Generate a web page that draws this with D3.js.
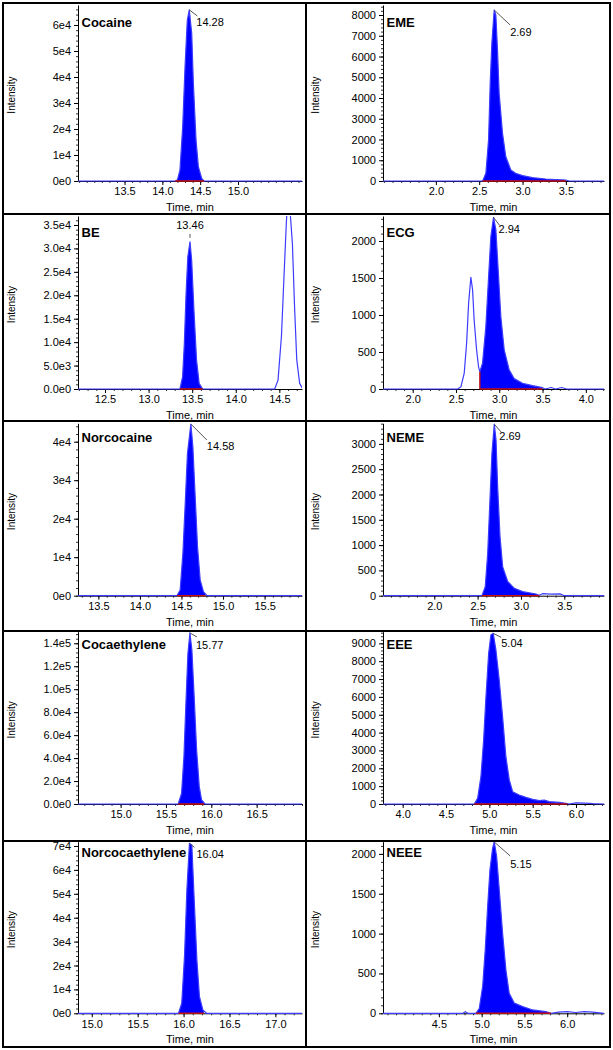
<!DOCTYPE html>
<html><head><meta charset="utf-8">
<script src="https://cdn.jsdelivr.net/npm/d3@7"></script>
<style>
body{margin:0;background:#fff}
svg{display:block}
text{font-family:"Liberation Sans",Arial,sans-serif;fill:#000}
</style>
</head><body>
<svg id="c" width="613" height="1050"></svg>
<script>
// ---------------- DATA ----------------
const panelNames = ["Cocaine","EME","BE","ECG","Norcocaine","NEME","Cocaethylene","EEE","Norcocaethylene","NEEE"];
const peakLabels = ["14.28","2.69","13.46","2.94","14.58","2.69","15.77","5.04","16.04","5.15"];

const xDomains = [[12.885,15.846],[1.39,3.94],[12.19,14.76],[1.657,4.21],[13.255,15.95],
                  [1.408,3.958],[14.53,17.0],[3.773,6.323],[14.85,17.29],[3.847,6.43]];
const yMax = [67692, 8482, 36918, 2338, 44779, 3407, 150087, 9653, 71799, 2153];

const xTicks = [[13.5,14.0,14.5,15.0],[2.0,2.5,3.0,3.5],[12.5,13.0,13.5,14.0,14.5],[2.0,2.5,3.0,3.5,4.0],
                [13.5,14.0,14.5,15.0,15.5],[2.0,2.5,3.0,3.5],[15.0,15.5,16.0,16.5],[4.0,4.5,5.0,5.5,6.0],
                [15.0,15.5,16.0,16.5,17.0],[4.5,5.0,5.5,6.0]];
const xTickLabels = [["13.5","14.0","14.5","15.0"],["2.0","2.5","3.0","3.5"],["12.5","13.0","13.5","14.0","14.5"],
                ["2.0","2.5","3.0","3.5","4.0"],["13.5","14.0","14.5","15.0","15.5"],["2.0","2.5","3.0","3.5"],
                ["15.0","15.5","16.0","16.5"],["4.0","4.5","5.0","5.5","6.0"],["15.0","15.5","16.0","16.5","17.0"],
                ["4.5","5.0","5.5","6.0"]];

const yTicks = [[0,1e4,2e4,3e4,4e4,5e4,6e4],[0,1000,2000,3000,4000,5000,6000,7000,8000],
                [0,5e3,1e4,1.5e4,2e4,2.5e4,3e4,3.5e4],[0,500,1000,1500,2000],[0,1e4,2e4,3e4,4e4],
                [0,500,1000,1500,2000,2500,3000],[0,2e4,4e4,6e4,8e4,1e5,1.2e5,1.4e5],
                [0,1000,2000,3000,4000,5000,6000,7000,8000,9000],[0,1e4,2e4,3e4,4e4,5e4,6e4,7e4],
                [0,500,1000,1500,2000]];
const yTickLabels = [["0e0","1e4","2e4","3e4","4e4","5e4","6e4"],
                ["0","1000","2000","3000","4000","5000","6000","7000","8000"],
                ["0.0e0","5.0e3","1.0e4","1.5e4","2.0e4","2.5e4","3.0e4","3.5e4"],
                ["0","500","1000","1500","2000"],["0e0","1e4","2e4","3e4","4e4"],
                ["0","500","1000","1500","2000","2500","3000"],
                ["0.0e0","2.0e4","4.0e4","6.0e4","8.0e4","1.0e5","1.2e5","1.4e5"],
                ["0","1000","2000","3000","4000","5000","6000","7000","8000","9000"],
                ["0e0","1e4","2e4","3e4","4e4","5e4","6e4","7e4"],
                ["0","500","1000","1500","2000"]];

// integration window (filled region + red baseline), minutes
const integration = [[14.17,14.55],[2.54,3.5],[13.36,13.62],[2.776,3.5],[14.445,14.79],
                     [2.55,3.21],[15.635,15.92],[4.826,5.9],[15.945,16.22],[4.933,5.81]];

// traces: [time (min), intensity (cps)]
const traceCocaine = [[12.885,0],[14.17,0],[14.20,500],[14.233,4200],[14.269,20900],[14.30,44000],[14.33,61900],
  [14.356,65800],[14.388,56800],[14.41,37600],[14.445,15800],[14.476,5500],[14.52,1000],[14.55,0],[15.846,0]];
const traceEME = [[1.39,0],[2.54,0],[2.577,370],[2.608,1980],[2.627,4710],[2.646,6640],[2.673,8240],[2.692,8000],
  [2.711,6310],[2.730,4230],[2.769,2300],[2.807,1170],[2.865,530],[2.92,370],[3.0,260],[3.115,160],[3.268,96],
  [3.5,48],[3.54,0],[3.94,0]];
const traceBE = [[12.19,0],[13.36,0],[13.39,2600],[13.41,9700],[13.43,20400],[13.45,28200],[13.475,31400],
  [13.494,27500],[13.52,16900],[13.55,6200],[13.58,1200],[13.62,0],[14.447,0],[14.485,1900],[14.524,11200],
  [14.55,22500],[14.58,35300],[14.60,42000],[14.625,37500],[14.65,31000],[14.676,16900],[14.70,6200],
  [14.733,1200],[14.77,0]];
const traceECG = [[1.657,0],[2.52,0],[2.557,30],[2.595,210],[2.623,620],[2.646,1160],[2.672,1510],[2.692,1340],
  [2.71,930],[2.738,530],[2.761,300],[2.776,234],[2.807,350],[2.845,840],[2.877,1520],[2.903,2060],[2.934,2320],
  [2.961,2150],[2.992,1520],[3.018,980],[3.057,530],[3.114,260],[3.172,140],[3.269,77],[3.384,45],[3.5,18],
  [3.53,0],[3.6,20],[3.65,0],[3.72,20],[3.78,0],[4.21,0]];
const traceNorcocaine = [[13.255,0],[14.445,0],[14.484,1500],[14.517,11000],[14.545,24000],[14.572,37000],
  [14.613,44600],[14.637,38700],[14.665,25700],[14.693,12700],[14.725,4100],[14.765,1000],[14.81,0],[15.95,0]];
const traceNEME = [[1.408,0],[2.55,0],[2.588,180],[2.616,840],[2.642,1890],[2.665,2810],[2.692,3390],[2.712,3080],
  [2.731,2150],[2.758,1170],[2.789,570],[2.847,280],[2.923,145],[3.02,80],[3.173,33],[3.21,10],[3.25,40],
  [3.35,30],[3.45,35],[3.5,0],[3.958,0]];
const traceCocaethylene = [[14.53,0],[15.635,0],[15.672,9300],[15.698,41200],[15.72,87700],[15.742,131000],
  [15.764,149000],[15.786,134000],[15.811,93500],[15.838,47000],[15.867,15100],[15.893,3500],[15.93,0],[17.0,0]];
const traceEEE = [[3.773,0],[4.826,0],[4.865,320],[4.903,1530],[4.934,3590],[4.961,6010],[4.992,8440],[5.018,9470],
  [5.045,9560],[5.076,8630],[5.114,6950],[5.153,4890],[5.191,2650],[5.23,1350],[5.269,690],[5.345,500],
  [5.422,370],[5.5,260],[5.576,190],[5.633,220],[5.69,130],[5.806,90],[5.883,40],[5.92,0],[6.0,60],[6.1,50],
  [6.2,20],[6.323,0]];
const traceNorcocaethylene = [[14.85,0],[15.945,0],[15.98,4200],[16.01,23700],[16.036,51600],[16.064,71100],
  [16.09,70400],[16.116,47400],[16.145,22300],[16.173,7000],[16.21,1400],[16.25,0],[17.29,0]];
const traceNEEE = [[3.847,0],[4.78,0],[4.81,20],[4.84,0],[4.933,0],[4.972,60],[5.012,340],[5.042,800],[5.07,1340],
  [5.097,1800],[5.128,2070],[5.147,2150],[5.175,1970],[5.206,1550],[5.245,1000],[5.284,540],[5.322,250],
  [5.381,130],[5.479,84],[5.596,42],[5.751,21],[5.81,0],[5.9,15],[6.0,20],[6.1,10],[6.2,20],[6.3,15],[6.43,0]];

const traces = [traceCocaine,traceEME,traceBE,traceECG,traceNorcocaine,traceNEME,
                traceCocaethylene,traceEEE,traceNorcocaethylene,traceNEEE];

// ---------------- LAYOUT ----------------
const colLayout = [
  {left:3, right:306, axisX:78, plotRight:302, intensityX:11},
  {left:306, right:610, axisX:383, plotRight:604, intensityX:315}
];
const rowLayout = [
  {top:3,   bottom:214,  plotTop:5,     base:181,    labelY:27},
  {top:214, bottom:421,  plotTop:216,   base:389,    labelY:237},
  {top:421, bottom:631,  plotTop:423.3, base:595.7,  labelY:442},
  {top:631, bottom:841,  plotTop:631.7, base:804,    labelY:649},
  {top:841, bottom:1047, plotTop:841.7, base:1013.3, labelY:857}
];
// peak annotation: leader [x1,y1,x2,y2] and text [dx,dy] relative to apex pixel
const leaderOffsets = [[0,0,8,6],[0,0,16,15],[0,-8,0,-4],[0,0,6,8],[0,0,16,16],[0,0,7,8],[0,0,7,4],[0,0,8,4],[0,0,5,4],[0,0,16,14]];
const textOffsets = [[7,16],[16,26],[0,-13],[5,16],[16,26],[5,16],[6,16],[8,14],[7,15],[16,26]];

// ---------------- DRAW ----------------
const svg = d3.select("#c");
svg.append("rect").attr("width",613).attr("height",1050).attr("fill","#fff");
const defs = svg.append("defs");

function valueAt(trace, t){
  for (let k=0;k<trace.length-1;k++){
    const a=trace[k], b=trace[k+1];
    if (t>=a[0] && t<=b[0]) return a[1]+(b[1]-a[1])*(t-a[0])/(b[0]-a[0]);
  }
  return 0;
}

panelNames.forEach((name,i)=>{
  const col = colLayout[i%2], row = rowLayout[Math.floor(i/2)];
  const trace = traces[i];
  const x = d3.scaleLinear().domain(xDomains[i]).range([col.axisX, col.plotRight]);
  const y = d3.scaleLinear().domain([0, yMax[i]]).range([row.base, row.plotTop]);
  const g = svg.append("g");

  defs.append("clipPath").attr("id","plot"+i).append("rect")
    .attr("x",col.axisX).attr("y",row.plotTop)
    .attr("width",col.plotRight-col.axisX).attr("height",row.base-row.plotTop+1);
  const [s,e] = integration[i];
  defs.append("clipPath").attr("id","int"+i).append("rect")
    .attr("x",x(s)).attr("y",row.plotTop-5)
    .attr("width",x(e)-x(s)).attr("height",row.base-row.plotTop+10);

  // axes
  const xMinor = d3.range(Math.ceil(xDomains[i][0]*10), Math.floor(xDomains[i][1]*10)+1).map(v=>v/10);
  g.append("g").attr("transform",`translate(0,${row.base})`)
    .call(d3.axisBottom(x).tickValues(xMinor).tickSize(2).tickFormat(""))
    .call(a=>a.select(".domain").remove())
    .selectAll("line").attr("stroke","#333");
  const xa = g.append("g").attr("transform",`translate(0,${row.base})`)
    .call(d3.axisBottom(x).tickValues(xTicks[i]).tickSize(4).tickSizeOuter(0)
      .tickFormat((d,k)=>xTickLabels[i][k]));
  xa.select(".domain").attr("stroke","#000");
  xa.selectAll("text").attr("font-size",11).attr("dy","0.95em").attr("y",4);

  const ystep = (yTicks[i][1]-yTicks[i][0])/5;
  const yMinor = d3.range(0, yMax[i], ystep);
  g.append("g").attr("transform",`translate(${col.axisX},0)`)
    .call(d3.axisLeft(y).tickValues(yMinor).tickSize(2).tickFormat(""))
    .call(a=>a.select(".domain").remove())
    .selectAll("line").attr("stroke","#333");
  const ya = g.append("g").attr("transform",`translate(${col.axisX},0)`)
    .call(d3.axisLeft(y).tickValues(yTicks[i]).tickSize(4).tickSizeOuter(0)
      .tickFormat((d,k)=>yTickLabels[i][k]));
  ya.select(".domain").attr("stroke","#000");
  ya.selectAll("text").attr("font-size",11).attr("x",-7);

  // axis titles
  g.append("text").attr("x",(col.axisX+col.plotRight)/2).attr("y",row.base+30)
    .attr("text-anchor","middle").attr("font-size",11).text("Time, min");
  g.append("text").attr("transform",`translate(${col.intensityX},${(row.plotTop+row.base)/2+2}) rotate(-90)`)
    .attr("text-anchor","middle").attr("font-size",10).attr("dy","0.35em").text("Intensity");

  // trace
  const pg = g.append("g").attr("clip-path",`url(#plot${i})`);
  const area = d3.area().x(d=>x(d[0])).y0(y(0)).y1(d=>y(d[1]));
  const line = d3.line().x(d=>x(d[0])).y(d=>y(d[1]));
  pg.append("path").datum(trace).attr("d",area).attr("fill","#0000ff")
    .attr("clip-path",`url(#int${i})`);
  pg.append("path").datum(trace).attr("d",line).attr("fill","none")
    .attr("stroke","#3c3cff").attr("stroke-width",1.2).attr("stroke-linejoin","round");
  // integration baseline
  pg.append("line").attr("x1",x(s)).attr("x2",x(e)).attr("y1",y(0)).attr("y2",y(0))
    .attr("stroke","#c01010").attr("stroke-width",1.6);
  const v0 = valueAt(trace, s);
  if (v0 > 0) {
    pg.append("line").attr("x1",x(s)).attr("x2",x(s)).attr("y1",y(0)).attr("y2",y(v0))
      .attr("stroke","#c01010").attr("stroke-width",1.4);
  }

  // compound label
  g.append("text").attr("x",col.axisX+3.5).attr("y",row.labelY)
    .attr("font-size",13).attr("font-weight","bold").text(name);

  // peak annotation (apex of the integrated peak)
  const inWin = trace.filter(d=>d[0]>=s && d[0]<=e);
  const apex = inWin.reduce((m,d)=>d[1]>m[1]?d:m, inWin[0]);
  const ax = x(apex[0]), ay = y(apex[1]);
  const lo = leaderOffsets[i], to = textOffsets[i];
  g.append("line").attr("x1",ax+lo[0]).attr("y1",ay+lo[1]).attr("x2",ax+lo[2]).attr("y2",ay+lo[3])
    .attr("stroke","#444").attr("stroke-width",0.9);
  g.append("text").attr("x",ax+to[0]).attr("y",ay+to[1]).attr("font-size",11)
    .attr("text-anchor", to[0]===0 ? "middle" : "start").text(peakLabels[i]);

  // frame
  svg.append("rect").attr("x",col.left).attr("y",row.top)
    .attr("width",col.right-col.left).attr("height",row.bottom-row.top)
    .attr("fill","none").attr("stroke","#000").attr("stroke-width",2);
});
</script>
</body></html>
